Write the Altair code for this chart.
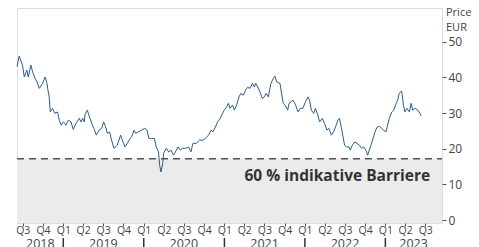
import altair as alt
import pandas as pd

dates = [
    "2018-06-05", "2018-06-15", "2018-06-30", "2018-07-08", "2018-07-20", "2018-07-26", "2018-08-07",
    "2018-08-15", "2018-08-26", "2018-09-04", "2018-09-14", "2018-09-29", "2018-10-11", "2018-10-19",
    "2018-10-22", "2018-10-29", "2018-11-03", "2018-11-13", "2018-11-24", "2018-12-06", "2018-12-14",
    "2018-12-22", "2019-01-02", "2019-01-13", "2019-01-24", "2019-02-05", "2019-02-15", "2019-02-28",
    "2019-03-15", "2019-03-22", "2019-03-30", "2019-04-06", "2019-04-09", "2019-04-20", "2019-04-30",
    "2019-05-13", "2019-05-20", "2019-05-31", "2019-06-12", "2019-06-24", "2019-07-03", "2019-07-12",
    "2019-07-20", "2019-07-30", "2019-08-08", "2019-08-19", "2019-09-03", "2019-09-18", "2019-09-29",
    "2019-10-08", "2019-10-18", "2019-10-31", "2019-11-07", "2019-11-18", "2019-11-25", "2019-12-07",
    "2019-12-22", "2020-01-06", "2020-01-16", "2020-01-24", "2020-02-05", "2020-02-18", "2020-02-27",
    "2020-03-08", "2020-03-13", "2020-03-19", "2020-03-27", "2020-03-31", "2020-04-12", "2020-04-23",
    "2020-05-04", "2020-05-15", "2020-05-28", "2020-06-04", "2020-06-15", "2020-06-25", "2020-07-08",
    "2020-07-22", "2020-08-02", "2020-08-11", "2020-08-26", "2020-09-10", "2020-09-26", "2020-10-06",
    "2020-10-21", "2020-11-01", "2020-11-10", "2020-11-21", "2020-12-01", "2020-12-13", "2020-12-19",
    "2020-12-31", "2021-01-11", "2021-01-19", "2021-01-26", "2021-02-06", "2021-02-15", "2021-02-25",
    "2021-03-08", "2021-03-17", "2021-03-28", "2021-04-07", "2021-04-16", "2021-04-27", "2021-05-08",
    "2021-05-17", "2021-05-23", "2021-06-01", "2021-06-11", "2021-06-22", "2021-07-01", "2021-07-09",
    "2021-07-19", "2021-07-31", "2021-08-11", "2021-08-18", "2021-08-26", "2021-09-10", "2021-09-17",
    "2021-09-25", "2021-10-03", "2021-10-15", "2021-10-21", "2021-10-31", "2021-11-08", "2021-11-20",
    "2021-12-01", "2021-12-11", "2021-12-23", "2022-01-04", "2022-01-15", "2022-01-22", "2022-01-30",
    "2022-02-10", "2022-02-18", "2022-03-01", "2022-03-09", "2022-03-21", "2022-03-31", "2022-04-11",
    "2022-04-20", "2022-05-01", "2022-05-11", "2022-05-20", "2022-05-31", "2022-06-07", "2022-06-15",
    "2022-06-23", "2022-06-30", "2022-07-08", "2022-07-20", "2022-07-26", "2022-08-04", "2022-08-15",
    "2022-08-25", "2022-09-05", "2022-09-15", "2022-09-24", "2022-10-05", "2022-10-13", "2022-10-20",
    "2022-10-28", "2022-11-04", "2022-11-15", "2022-11-24", "2022-12-05", "2022-12-15", "2022-12-24",
    "2023-01-04", "2023-01-11", "2023-01-19", "2023-01-30", "2023-02-08", "2023-02-19", "2023-02-26",
    "2023-03-05", "2023-03-16", "2023-03-24", "2023-03-31", "2023-04-09", "2023-04-20", "2023-04-28",
    "2023-05-05", "2023-05-16", "2023-05-28", "2023-06-07", "2023-06-12",
]
prices = [
    43.0, 45.9, 43.4, 40.1, 42.0, 40.1, 43.4,
    41.5, 39.7, 38.7, 36.9, 38.3, 40.1, 38.3,
    36.9, 34.5, 30.3, 31.3, 29.9, 30.3, 28.0,
    26.6, 27.5, 26.6, 28.0, 27.5, 25.4, 27.1,
    28.5, 27.5, 28.5, 27.5, 29.4, 30.8, 28.9,
    26.6, 25.7, 23.8, 25.2, 25.7, 27.5, 26.1,
    24.3, 24.7, 22.4, 20.1, 21.0, 23.8, 21.9,
    20.5, 21.5, 22.9, 23.3, 25.2, 24.3, 24.7,
    25.2, 25.7, 25.2, 22.9, 22.8, 22.9, 20.5,
    19.1, 15.4, 13.5, 15.9, 18.7, 20.1, 19.1,
    19.6, 18.2, 19.6, 20.5, 19.6, 20.1, 20.1,
    20.5, 19.1, 21.5, 21.5, 22.4, 22.4, 22.9,
    23.8, 25.2, 24.7, 26.1, 27.5, 28.5, 29.4,
    30.8, 31.7, 32.7, 31.3, 32.2, 30.8, 32.2,
    34.5, 35.5, 35.0, 36.4, 37.2, 36.9, 38.3,
    37.3, 38.3, 37.3, 35.9, 34.1, 34.5, 35.5,
    34.5, 38.3, 39.7, 40.3, 38.7, 38.3, 35.5,
    32.7, 32.2, 30.8, 32.7, 33.2, 33.6, 32.2,
    30.3, 31.3, 31.3, 33.2, 34.5, 33.6, 30.8,
    29.9, 31.3, 29.4, 27.5, 28.5, 27.1, 25.2,
    25.7, 23.8, 24.7, 26.1, 28.0, 28.5, 26.1,
    23.3, 21.0, 20.5, 20.5, 19.6, 21.0, 21.9,
    21.5, 21.0, 20.1, 20.5, 19.6, 18.2, 19.6,
    21.0, 22.4, 24.7, 26.0, 26.3, 25.7, 25.2,
    24.7, 26.6, 28.5, 30.3, 30.8, 32.7, 33.6,
    35.5, 36.2, 32.2, 30.3, 31.3, 30.3, 32.7,
    30.8, 31.3, 30.8, 29.9, 29.2,
]

barrier = 17.2
barrier_label = "60 % indikative Barriere"
y_ticks = [0, 10, 20, 30, 40, 50]
quarter_starts = [(2018, 7), (2018, 10)] + [(y, m) for y in range(2019, 2023) for m in (1, 4, 7, 10)] + [(2023, 1), (2023, 4), (2023, 7)]
year_labels = ["2018", "2019", "2020", "2021", "2022", "2023"]
year_label_pos = ["2018-09-19", "2019-07-02", "2020-07-01", "2021-07-02", "2022-07-02", "2023-05-09"]
year_starts = ["2019-01-01", "2020-01-01", "2021-01-01", "2022-01-01", "2023-01-01"]

W, H = 425, 215
FONT = "Open Sans"

df = pd.DataFrame({"date": dates, "price": prices})
df_years = pd.DataFrame({"date": year_label_pos, "label": year_labels})
df_sep = pd.DataFrame({"date": year_starts})

x_scale = alt.Scale(type="utc", domain=[alt.DateTime(year=2018, month=6, date=5, utc=True),
                                        alt.DateTime(year=2023, month=9, date=15, utc=True)])
y_scale = alt.Scale(domain=[-0.8, 59.4], nice=False, zero=False)

x_axis = alt.Axis(
    values=[alt.DateTime(year=y, month=m, date=1, utc=True) for y, m in quarter_starts],
    labelExpr="'Q' + utcquarter(datum.value)",
    title=None, domain=False, grid=False, tickColor="#555", tickSize=3, tickWidth=1,
    labelFontSize=10.5, labelColor="#444", labelFont=FONT, labelPadding=-1,
)
y_axis = alt.Axis(
    orient="right", values=y_ticks, title=None, domain=False, grid=False,
    tickColor="#555", tickSize=4, labelFontSize=12, labelColor="#444", labelFont=FONT, labelPadding=2,
)

band = alt.Chart(pd.DataFrame({"b": [barrier]})).mark_rect(color="#ebebeb").encode(
    x=alt.value(0), x2=alt.value(W), y=alt.Y("b:Q", scale=y_scale, axis=y_axis), y2=alt.value(H)
)
rule = alt.Chart(pd.DataFrame({"b": [barrier]})).mark_rule(
    color="#555", strokeWidth=1.6, strokeDash=[7, 5]
).encode(x=alt.value(0), x2=alt.value(W), y=alt.Y("b:Q", scale=y_scale, axis=y_axis))

line = alt.Chart(df).mark_line(color="#2d5d89", strokeWidth=1.0).encode(
    x=alt.X("date:T", scale=x_scale, axis=x_axis),
    y=alt.Y("price:Q", scale=y_scale, axis=y_axis),
)

label = alt.Chart(pd.DataFrame({"date": ["2022-05-28"], "v": [12.3], "t": [barrier_label]})).mark_text(
    fontSize=15.5, fontWeight="bold", font=FONT, color="#333", align="center", baseline="middle"
).encode(x=alt.X("date:T", scale=x_scale, axis=x_axis), y=alt.Y("v:Q", scale=y_scale, axis=y_axis), text="t:N")

years = alt.Chart(df_years).mark_text(fontSize=12.5, font=FONT, color="#444", baseline="middle").encode(
    x=alt.X("date:T", scale=x_scale, axis=x_axis), y=alt.value(H + 21), text="label:N"
)
seps = alt.Chart(df_sep).mark_rule(color="#333", strokeWidth=1.5).encode(
    x=alt.X("date:T", scale=x_scale, axis=x_axis), y=alt.value(H + 15), y2=alt.value(H + 24)
)

unit = alt.Chart(pd.DataFrame({"t": ["Price", "EUR"], "yy": [5, 20]})).mark_text(
    fontSize=11, font=FONT, color="#444", align="left", baseline="middle"
).encode(x=alt.value(W + 4), y=alt.Y("yy:Q", scale=None), text="t:N")

chart = alt.layer(band, rule, line, label, years, seps, unit).properties(
    width=W, height=H,
    autosize=alt.AutoSizeParams(type="none"),
    padding={"left": 9, "top": 0, "right": 29, "bottom": 24},
).configure_view(stroke="#555", strokeWidth=1.5).configure(background="white")

chart.save("out.html", embed_options={"renderer": "svg", "actions": False})
